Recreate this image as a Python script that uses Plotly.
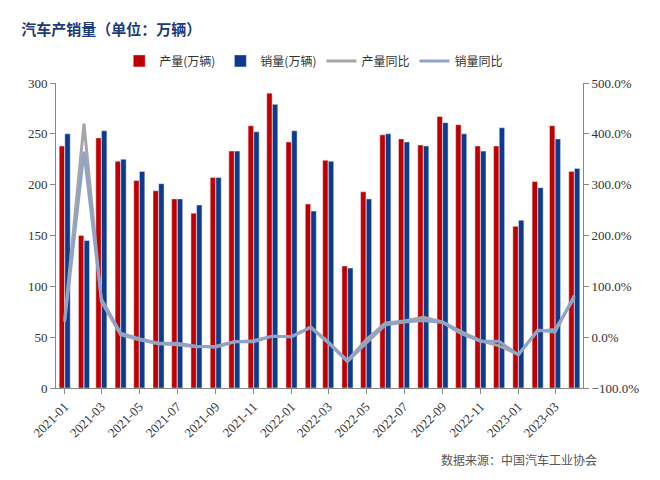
import plotly.graph_objects as go

months = ["2021-01","2021-02","2021-03","2021-04","2021-05","2021-06","2021-07","2021-08","2021-09","2021-10","2021-11","2021-12",
          "2022-01","2022-02","2022-03","2022-04","2022-05","2022-06","2022-07","2022-08","2022-09","2022-10","2022-11","2022-12",
          "2023-01","2023-02","2023-03","2023-04"]
production = [238,150,246,223,204,194,186,172,207,233,258,290,242,181,224,120,193,249,245,239,267,259,238,238,159,203,258,213]
sales = [250,145,253,225,213,201,186,180,207,233,252,279,253,174,223,118,186,250,242,238,261,250,233,256,165,197,245,216]
prod_yoy = [35,420,70,5,-5,-13,-15,-19,-18,-9,-7,2,1,20,-9,-46,-5,28,32,39,30,11,-7,-17,-34,12,15,77]
sales_yoy = [30,365,75,8,-3,-12,-12,-18,-20,-9,-9,2,1,19,-11,-48,-12,24,30,33,29,7,-8,-8,-35,14,10,82]
tickvals = months[::2]

fig = go.Figure()
fig.add_bar(x=months, y=production, name="产量(万辆)", marker_color="#C00000")
fig.add_bar(x=months, y=sales, name="销量(万辆)", marker_color="#0D3A8C")
fig.add_scatter(x=months, y=prod_yoy, name="产量同比", yaxis="y2", mode="lines", line=dict(color="#A6A6A6", width=3))
fig.add_scatter(x=months, y=sales_yoy, name="销量同比", yaxis="y2", mode="lines", line=dict(color="#8FA3C8", width=3))

axcommon = dict(showline=True, linecolor="#888", ticks="outside", tickcolor="#888",
                tickfont=dict(family="Liberation Serif", size=13, color="#333"))
fig.update_layout(
    width=660, height=480, plot_bgcolor="white", paper_bgcolor="white",
    margin=dict(l=48, r=85, t=75, b=100),
    font=dict(family="Noto Sans CJK SC", size=12, color="#333"),
    bargap=0.35, bargroupgap=0.05,
    title=dict(text="<b>汽车产销量（单位：万辆）</b>", x=0.02, y=0.965, font=dict(size=15, color="#1F3A7A")),
    legend=dict(orientation="h", x=0.12, y=1.12, font=dict(size=12)),
    xaxis=dict(tickvals=tickvals, ticktext=tickvals, tickangle=-45, **axcommon),
    yaxis=dict(range=[0,300], dtick=50, showgrid=False, **axcommon),
    yaxis2=dict(range=[-100,500], dtick=100, overlaying="y", side="right", showgrid=False, ticksuffix=".0%", **axcommon),
    annotations=[dict(text="数据来源：中国汽车工业协会", x=1.03, y=-0.27, xref="paper", yref="paper",
                      xanchor="right", showarrow=False, font=dict(size=12, color="#555"))]
)
fig.write_html("out.html")
